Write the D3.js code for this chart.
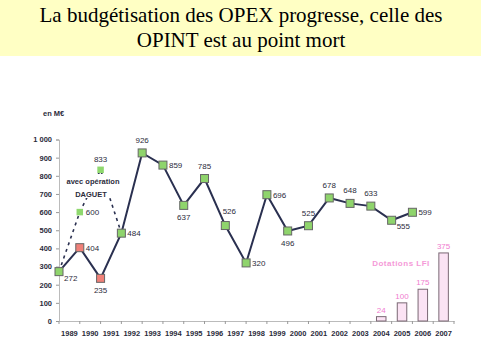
<!DOCTYPE html>
<html><head><meta charset="utf-8">
<script src="https://cdn.jsdelivr.net/npm/d3@7"></script>
<style>body{margin:0;background:#fff}svg{display:block}</style>
</head><body>
<script>
const years = [1989,1990,1991,1992,1993,1994,1995,1996,1997,1998,1999,2000,2001,2002,2003,2004,2005,2006,2007];
const opexYears = [1989,1990,1991,1992,1993,1994,1995,1996,1997,1998,1999,2000,2001,2002,2003,2004,2005,2006];
const opexValues = [272,404,235,484,926,859,637,785,526,320,696,496,525,678,648,633,555,599];
const redYears = [1990,1991];
const daguetYears = [1989,1990,1991,1992];
const daguetValues = [272,600,833,484];
const lfiYears = [2004,2005,2006,2007];
const lfiValues = [24,100,175,375];
const yTicks = [0,100,200,300,400,500,600,700,800,900,1000];
// label placement: r = right, b = below, a = above, ar = above-right, rb = right-below
const labelPos = ["rb","r","b","r","a","r","b","a","ar","r","r","b","a","a","a","a","rb","r"];

const W=481,H=359;
const svg=d3.select("body").append("svg").attr("width",W).attr("height",H);

svg.append("rect").attr("x",0).attr("y",0).attr("width",W).attr("height",56).attr("fill","#ffffc4");
const title=svg.append("text").attr("text-anchor","middle").attr("font-family","Liberation Serif, Times New Roman, serif").attr("font-size",21).attr("fill","#000");
title.append("tspan").attr("x",241).attr("y",22).text("La budgétisation des OPEX progresse, celle des");
title.append("tspan").attr("x",241).attr("y",47).text("OPINT est au point mort");

const x=d3.scaleBand().domain(years).range([59,454]);
const y=d3.scaleLinear().domain([0,1000]).range([321,139.5]);
const px=d=>x(d);
const font="Liberation Sans, Arial, sans-serif";
const txt="#2b2b3b";

// y axis
const yAxis=svg.append("g").attr("transform","translate(59,0)")
  .call(d3.axisLeft(y).tickValues(yTicks).tickSize(3).tickPadding(4).tickFormat(d=>d===1000?"1 000":d));
yAxis.select(".domain").attr("stroke","#bbb");
yAxis.selectAll(".tick line").attr("stroke","#999");
yAxis.selectAll("text").attr("font-family",font).attr("font-size",7.5).attr("font-weight","bold").attr("fill",txt);

// x axis
const xAxis=svg.append("g").attr("transform","translate(0,321)")
  .call(d3.axisBottom(x).tickSize(0).tickPadding(10).tickSizeOuter(0));
xAxis.select(".domain").attr("stroke","#bbb");
xAxis.selectAll("text").attr("font-family",font).attr("font-size",7.5).attr("font-weight","bold").attr("fill",txt);
xAxis.selectAll(".xt").data(years.concat([null])).enter().append("line")
  .attr("x1",d=>d===null?454:x(d)).attr("x2",d=>d===null?454:x(d)).attr("y1",0).attr("y2",3).attr("stroke","#999");

svg.append("text").attr("x",43).attr("y",116).attr("font-family",font).attr("font-size",7.5).attr("font-weight","bold").attr("fill",txt).text("en M€");

// LFI bars
const bw=9.5;
svg.selectAll(".bar").data(lfiYears).enter().append("rect")
  .attr("x",(d)=>x(d)+x.bandwidth()/2-bw/2).attr("width",bw)
  .attr("y",(d,i)=>y(lfiValues[i])).attr("height",(d,i)=>321-y(lfiValues[i]))
  .attr("fill","#fbe3f4").attr("stroke","#7a6874").attr("stroke-width",1);
svg.selectAll(".barl").data(lfiYears).enter().append("text")
  .attr("x",d=>x(d)+x.bandwidth()/2).attr("y",(d,i)=>y(lfiValues[i])-4)
  .attr("text-anchor","middle").attr("font-family",font).attr("font-size",8).attr("fill","#f07ccf")
  .text((d,i)=>lfiValues[i]);
svg.append("text").attr("x",401).attr("y",266).attr("text-anchor","middle").attr("font-family",font)
  .attr("font-size",8).attr("font-weight","bold").attr("fill","#f59ad8").attr("letter-spacing",0.5).text("Dotations LFI");

// Daguet dashed
svg.append("path").datum(daguetYears).attr("fill","none").attr("stroke","#2a3050").attr("stroke-width",1.6)
  .attr("stroke-dasharray","3,4")
  .attr("d",d3.line().x(d=>px(d)).y((d,i)=>y(daguetValues[i])));
// label background to interrupt dashes
svg.append("rect").attr("x",64).attr("y",174).attr("width",58).attr("height",24).attr("fill","#fff");
svg.append("text").attr("x",93).attr("y",184).attr("text-anchor","middle").attr("font-family",font).attr("font-size",7.5).attr("font-weight","bold").attr("fill",txt).text("avec opération");
svg.append("text").attr("x",91).attr("y",197).attr("text-anchor","middle").attr("font-family",font).attr("font-size",7.5).attr("font-weight","bold").attr("fill",txt).text("DAGUET");
const ds=6.5;
svg.selectAll(".dm").data([1990,1991]).enter().append("rect")
  .attr("x",d=>px(d)-ds/2).attr("y",(d)=>y(daguetValues[daguetYears.indexOf(d)])-ds/2)
  .attr("width",ds).attr("height",ds).attr("fill","#8fd86e");
svg.selectAll(".dl").data([1990,1991]).enter().append("text")
  .attr("x",d=>d===1990?px(d)+6:px(d))
  .attr("y",d=>d===1990?y(600)+3:y(833)-8)
  .attr("text-anchor",d=>d===1990?"start":"middle")
  .attr("font-family",font).attr("font-size",8).attr("fill",txt)
  .text(d=>daguetValues[daguetYears.indexOf(d)]);

// main line
svg.append("path").datum(opexYears).attr("fill","none").attr("stroke","#2a3050").attr("stroke-width",2)
  .attr("d",d3.line().x(d=>px(d)).y((d,i)=>y(opexValues[i])));
const ms=8;
svg.selectAll(".m").data(opexYears).enter().append("rect")
  .attr("x",d=>px(d)-ms/2).attr("y",(d,i)=>y(opexValues[i])-ms/2)
  .attr("width",ms).attr("height",ms)
  .attr("fill",d=>redYears.includes(d)?"#f08078":"#8fd46c")
  .attr("stroke","#666").attr("stroke-width",1);
svg.selectAll(".ml").data(opexYears).enter().append("text")
  .attr("font-family",font).attr("font-size",8).attr("fill",txt)
  .each(function(d,i){
    const X=px(d),Y=y(opexValues[i]),p=labelPos[i];
    const t=d3.select(this).text(opexValues[i]);
    if(p==="r"){t.attr("x",X+6).attr("y",Y+3);}
    else if(p==="rb"){t.attr("x",X+5).attr("y",Y+9);}
    else if(p==="b"){t.attr("x",X).attr("y",Y+15).attr("text-anchor","middle");}
    else if(p==="a"){t.attr("x",X).attr("y",Y-10).attr("text-anchor","middle");}
    else if(p==="ar"){t.attr("x",X+4).attr("y",Y-12).attr("text-anchor","middle");}
  });
</script>
</body></html>
